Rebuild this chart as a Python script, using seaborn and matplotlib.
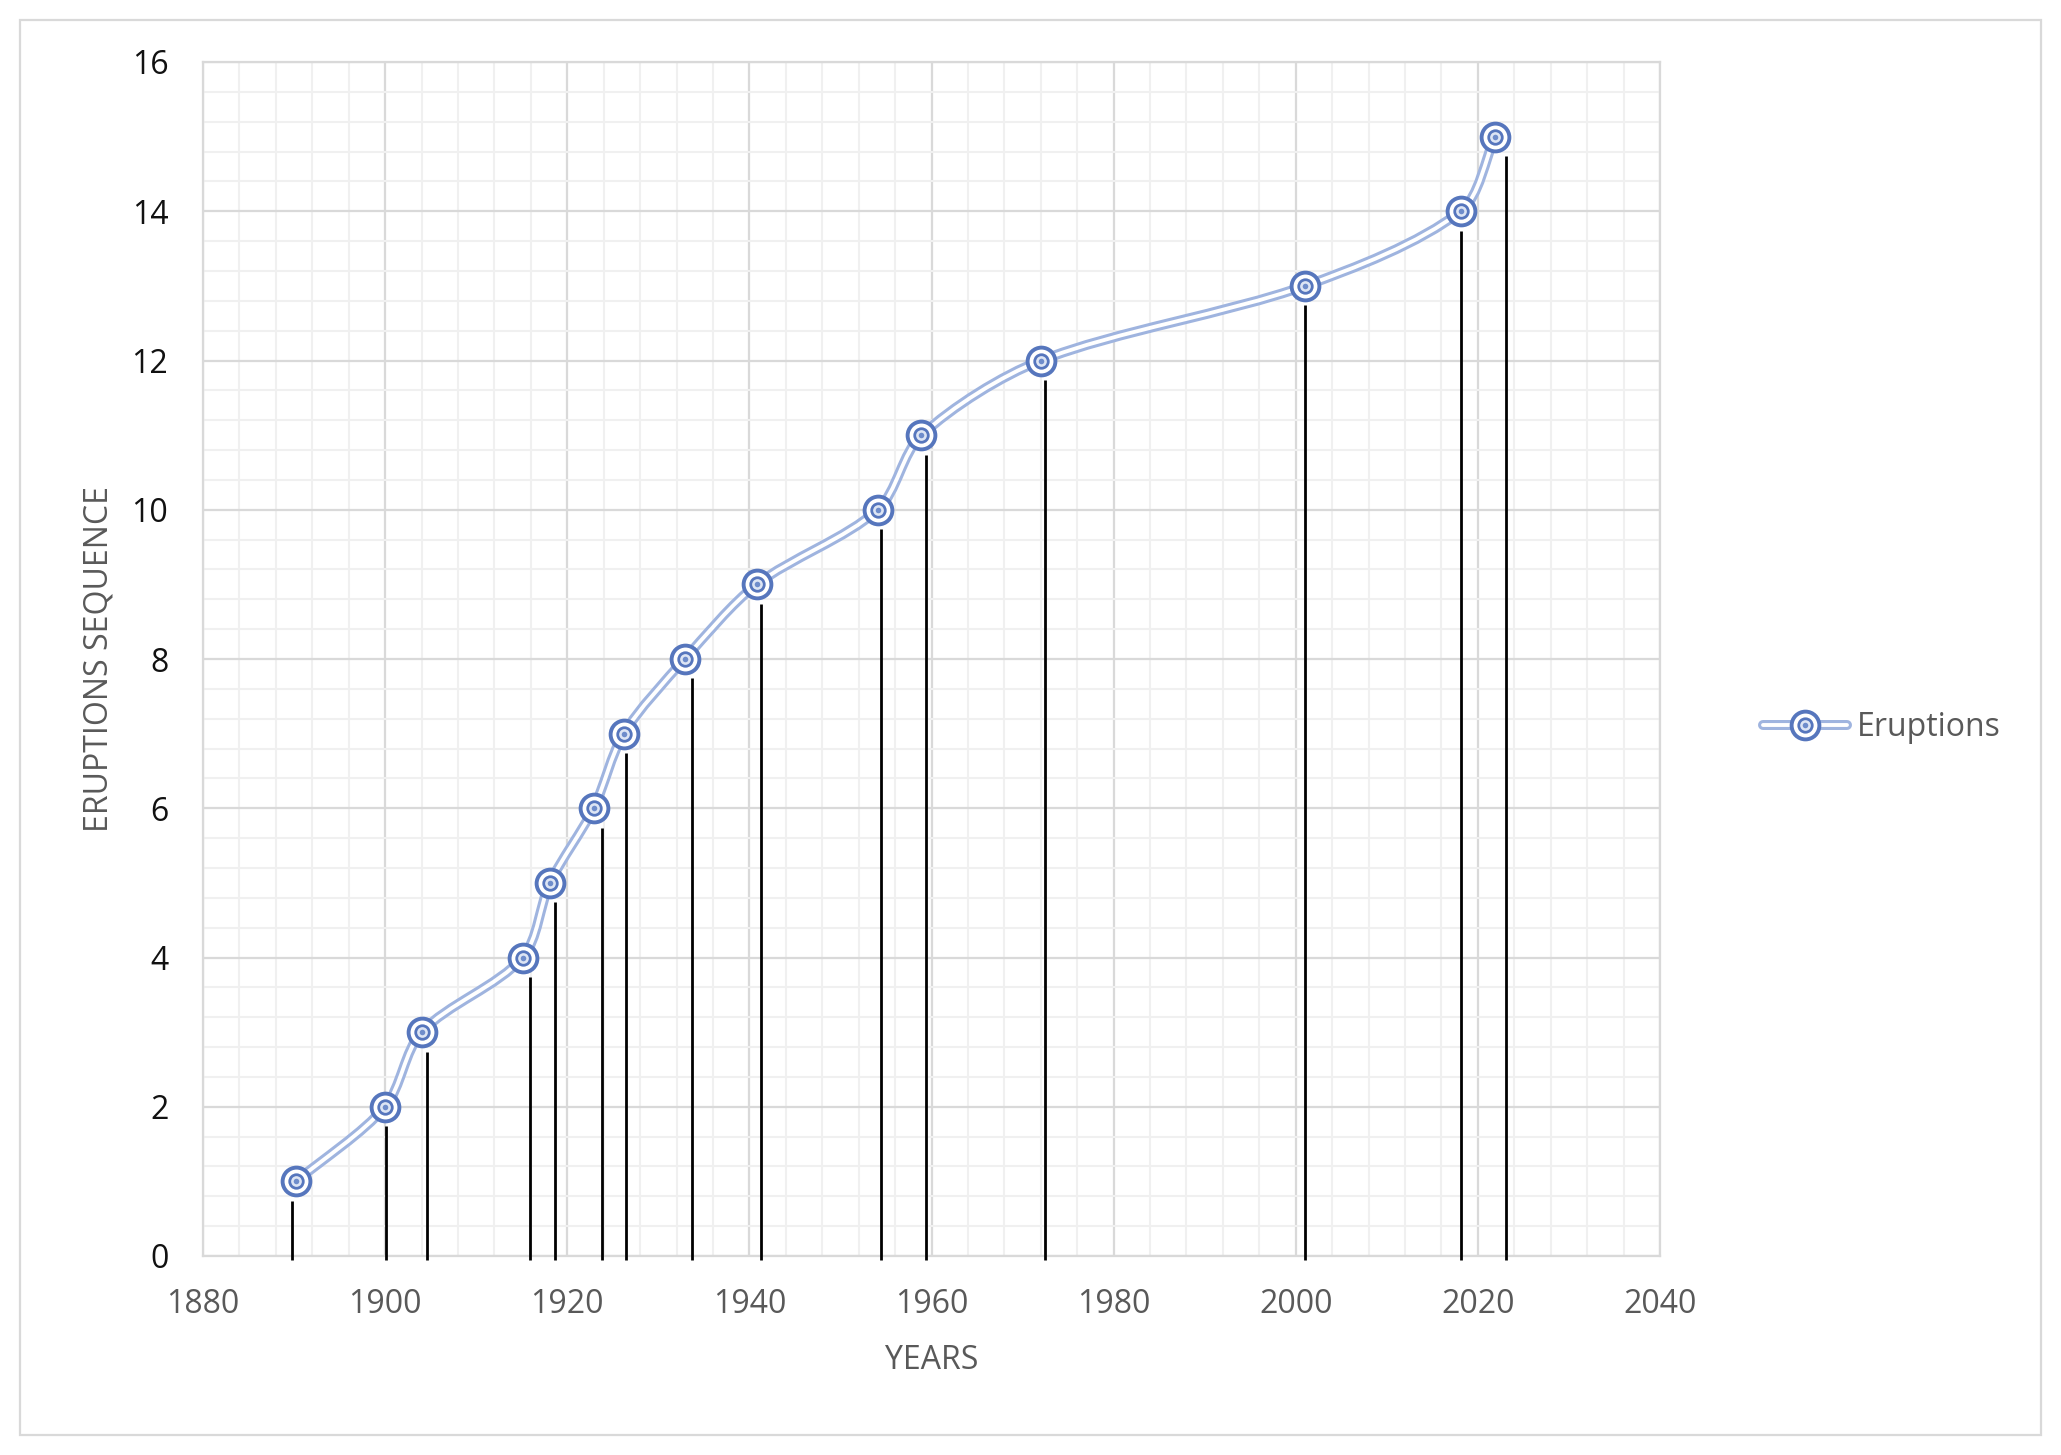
import numpy as np
import pandas as pd
import matplotlib
matplotlib.use("Agg")
import matplotlib.pyplot as plt
import seaborn as sns
from matplotlib.path import Path
from matplotlib.patches import PathPatch, Rectangle
from matplotlib.lines import Line2D
from matplotlib.legend_handler import HandlerTuple
from matplotlib.ticker import MultipleLocator, FixedLocator

# ---------------- data ----------------
years = [1890.2, 1900.0, 1904.0, 1915.1, 1918.1, 1922.9, 1926.2, 1932.9,
         1940.8, 1954.1, 1958.9, 1972.0, 2001.0, 2018.1, 2021.9]
sequence = [1, 2, 3, 4, 5, 6, 7, 8, 9, 10, 11, 12, 13, 14, 15]
stem_years = [1889.8, 1900.1, 1904.6, 1915.9, 1918.6, 1923.8, 1926.5, 1933.7,
              1941.3, 1954.5, 1959.4, 1972.5, 2001.0, 2018.2, 2023.1]
x_ticks = [1880, 1900, 1920, 1940, 1960, 1980, 2000, 2020, 2040]
y_ticks = [0, 2, 4, 6, 8, 10, 12, 14, 16]
series_name = "Eruptions"
x_title = "YEARS"
y_title = "ERUPTIONS SEQUENCE"

# ---------------- style ----------------
sns.set_theme(style="white")
plt.rcParams['font.family'] = ['Open Sans', 'DejaVu Sans']

LINE_BLUE = '#9FB4DF'
RING_BLUE = '#5676BD'
FS = 23

W, H = 2061, 1455
fig = plt.figure(figsize=(W / 100, H / 100), dpi=100, facecolor='white')
ax = fig.add_axes([203 / W, (H - 1256) / H, (1660 - 203) / W, (1256 - 62) / H])
ax.set_facecolor('white')

df = pd.DataFrame({"year": years, "sequence": sequence})

# axes, grid
ax.set_xlim(x_ticks[0], x_ticks[-1])
ax.set_ylim(y_ticks[0], y_ticks[-1])
ax.xaxis.set_major_locator(FixedLocator(x_ticks))
ax.yaxis.set_major_locator(FixedLocator(y_ticks))
ax.xaxis.set_minor_locator(MultipleLocator(4))
ax.yaxis.set_minor_locator(MultipleLocator(0.4))
ax.grid(which='minor', color='#F0F0F0', lw=1.5, zorder=0)
ax.grid(which='major', color='#D9D9D9', lw=1.6, zorder=0)
ax.set_axisbelow(True)
for s in ax.spines.values():
    s.set_color('#D9D9D9')
    s.set_linewidth(1.6)
ax.tick_params(which='both', length=0)
ax.tick_params(axis='x', labelsize=FS, labelcolor='#595959', pad=23)
ax.tick_params(axis='y', labelsize=FS, labelcolor='#111111', pad=25)

# smoothed double line: bezier through the points, handles along the
# neighbour tangent, sized from the segment length in screen space
P = df[["year", "sequence"]].to_numpy(float)
Pd = ax.transData.transform(P)
n = len(P)
verts = [Pd[0]]
codes = [Path.MOVETO]
def tangent(i):
    a = Pd[max(i - 1, 0)]
    b = Pd[min(i + 1, n - 1)]
    t = b - a
    return t / np.hypot(*t)
for i in range(n - 1):
    p1, p2 = Pd[i], Pd[i + 1]
    L = np.hypot(*(p2 - p1))
    c1 = p1 + tangent(i) * L * 0.3
    c2 = p2 - tangent(i + 1) * L * 0.3
    verts += [c1, c2, p2]
    codes += [Path.CURVE4] * 3
path_data = Path(ax.transData.inverted().transform(np.array(verts)), codes)
ax.add_patch(PathPatch(path_data, fill=False, edgecolor=LINE_BLUE, lw=7.2,
                       capstyle='round', joinstyle='round', zorder=2))
ax.add_patch(PathPatch(path_data, fill=False, edgecolor='white', lw=2.8,
                       capstyle='round', joinstyle='round', zorder=2.1))

# black stems
ax.vlines(stem_years, -0.06, np.array(sequence, float) - 0.26,
          color='black', lw=2.0, zorder=3, clip_on=False)

# markers (double ring)
sns.scatterplot(data=df, x="year", y="sequence", ax=ax, s=400, marker='o',
                color='white', edgecolor=RING_BLUE, linewidth=2.8, zorder=5, legend=False)
sns.scatterplot(data=df, x="year", y="sequence", ax=ax, s=95, marker='o',
                color='#DDE5F4', edgecolor=RING_BLUE, linewidth=2.0, zorder=6, legend=False)
sns.scatterplot(data=df, x="year", y="sequence", ax=ax, s=16, marker='o',
                color='#6F8DCB', linewidth=0, zorder=7, legend=False)

ax.set_xlabel(x_title, fontsize=FS, color='#595959')
ax.set_ylabel(y_title, fontsize=FS, color='#595959')
ax.xaxis.set_label_coords(0.5, -0.074)
ax.yaxis.set_label_coords(-0.060, 0.5)

# legend
h = (Line2D([], [], color=LINE_BLUE, lw=7.2),
     Line2D([], [], color='white', lw=2.8),
     Line2D([], [], ls='', marker='o', ms=20, mfc='white', mec=RING_BLUE, mew=2.8),
     Line2D([], [], ls='', marker='o', ms=9.7, mfc='#DDE5F4', mec=RING_BLUE, mew=2.0),
     Line2D([], [], ls='', marker='o', ms=4, mfc='#6F8DCB', mew=0))
fig.legend(handles=[h], labels=[series_name],
           handler_map={tuple: HandlerTuple(ndivide=1, pad=0)},
           loc='center left', bbox_to_anchor=(1763 / W, 1 - 728 / H),
           bbox_transform=fig.transFigure, frameon=False, borderpad=0,
           borderaxespad=0, handlelength=2.63, handletextpad=0.3,
           fontsize=FS, labelcolor='#595959')

# outer chart border
fig.add_artist(Rectangle((20 / W, 20 / H), 2021 / W, 1415 / H, transform=fig.transFigure,
                         fill=False, edgecolor='#D9D9D9', lw=1.6))

fig.savefig('out.png', dpi=100, facecolor='white')
